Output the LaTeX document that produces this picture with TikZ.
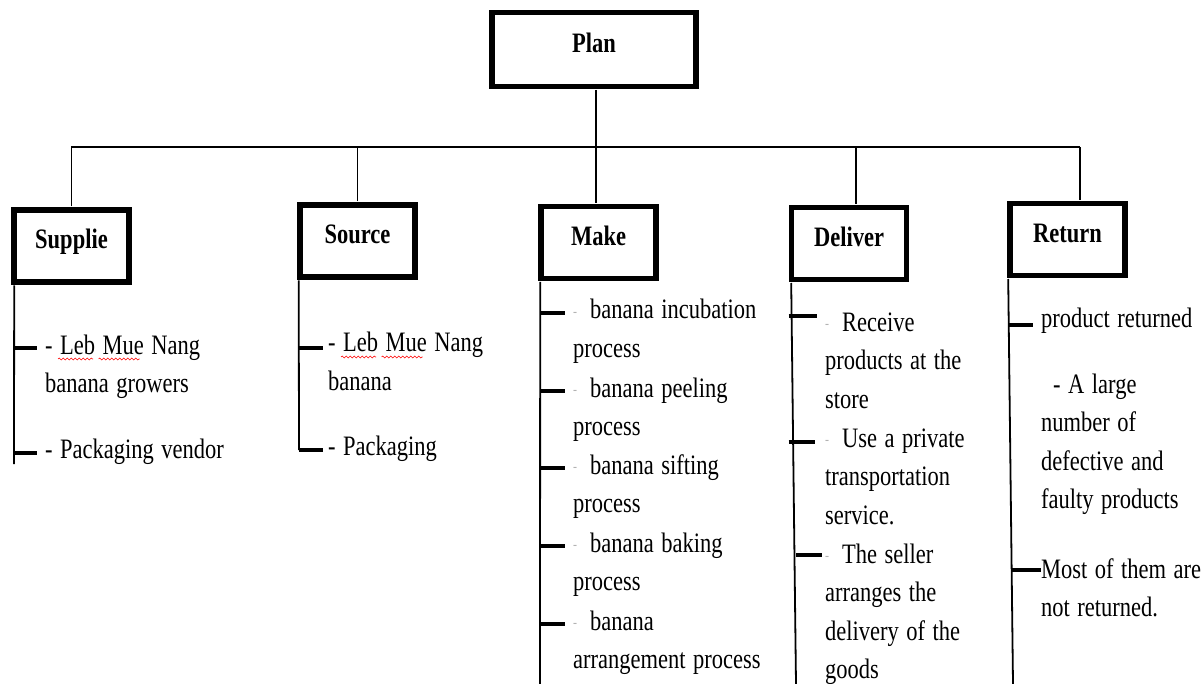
\documentclass[tikz,border=0pt]{standalone}
\usepackage{fontspec}
\setmainfont{Liberation Serif}
\usetikzlibrary{decorations.pathmorphing}

% small grey dash in front of the Make / Deliver items
\newcommand{\gdash}{\makebox[17pt][l]{\color{black!30}\raisebox{2pt}{\fontsize{12}{12}\selectfont -}}}

\tikzset{
    box/.style={draw, line width=5.6pt, minimum width=115pt, minimum height=57.6pt,
        inner sep=0pt, yscale=1.25, text height=12pt, text depth=7.5pt,
        font=\fontsize{22.5}{27}\selectfont\bfseries},
    item/.style={anchor=base west, align=left, text width=220pt, inner sep=0pt, yscale=1.25,
        font=\fontsize{22.5}{30.8}\selectfont},
    conn/.style={line width=1.8pt},
    stem/.style={line width=1.8pt},
    tick/.style={line width=3.6pt},
    squig/.style={red, line width=0.6pt, decorate,
        decoration={snake, amplitude=0.9pt, segment length=4pt}}
}

\begin{document}
\begin{tikzpicture}[x=1pt, y=-1pt]
    \useasboundingbox (0,0) rectangle (1204,684);

    % Boxes
    \node[box, minimum width=204pt, minimum height=59.2pt] (plan) at (594,49.5) {Plan};
    \node[box] (sup) at (71.5,246) {Supplie};
    \node[box] (src) at (357.5,241) {Source};
    \node[box] (mk) at (598.5,242.5) {Make};
    \node[box] (dl) at (849,243.5) {Deliver};
    \node[box] (rt) at (1067.5,239.5) {Return};

    % Bus from Plan to the five boxes
    \coordinate (busL) at (71,147);
    \coordinate (busR) at (1080,147);
    \draw[conn] (busL) -- (busR);
    \draw[conn] ([xshift=2pt]plan.south) -- ([xshift=2pt]plan.south |- mk.north);
    \draw[conn] (sup.north) -- (sup.north |- busL);
    \draw[conn] (src.north) -- (src.north |- busL);
    \draw[conn] ([xshift=7pt]dl.north) -- ([xshift=7pt]dl.north |- busL);
    \draw[conn] ([xshift=12.5pt]rt.north) -- ([xshift=12.5pt]rt.north |- busL);

    % Supplie
    \node[item] (sup1) at (45,354) {- Leb Mue Nang\\banana growers};
    \node[item] (sup2) at (45,458) {- Packaging vendor};
    \coordinate (supEnd) at (14,464);
    \draw[stem] ([xshift=3pt]sup.south west) -- (supEnd);
    \draw[tick] ([yshift=6pt]sup1.base west -| supEnd) -- ([xshift=-8pt,yshift=6pt]sup1.base west);
    \draw[tick] ([yshift=5pt]sup2.base west -| supEnd) -- ([xshift=-8pt,yshift=5pt]sup2.base west);
    \draw[squig] ([shift={(13pt,-5pt)}]sup1.base west) -- ++(35,0);
    \draw[squig] ([shift={(53.5pt,-5pt)}]sup1.base west) -- ++(41,0);

    % Source
    \node[item] (src1) at (328,352) {- Leb Mue Nang\\banana};
    \node[item] (src2) at (328,455) {- Packaging};
    \coordinate (srcEnd) at (299,450);
    \draw[stem] ([xshift=1.5pt]src.south west) -- (srcEnd);
    \draw[tick] ([yshift=4pt]src1.base west -| srcEnd) -- ([xshift=-5pt,yshift=4pt]src1.base west);
    \draw[tick] (srcEnd) -- ([xshift=-5pt,yshift=5pt]src2.base west);
    \draw[squig] ([shift={(13pt,-5pt)}]src1.base west) -- ++(35,0);
    \draw[squig] ([shift={(53.5pt,-5pt)}]src1.base west) -- ++(41,0);

    % Make
    \coordinate (mkEnd) at (540,684);
    \draw[stem] ([xshift=2pt]mk.south west) -- (mkEnd);
    \foreach \nm/\yy/\txt in {mk1/319/{banana incubation\\process},
                              mk2/397/{banana peeling\\process},
                              mk3/474/{banana sifting\\process},
                              mk4/552/{banana baking\\process},
                              mk5/630/{banana\\arrangement process}} {
        \node[item] (\nm) at (573,\yy) {\gdash\txt};
        \draw[tick] ([yshift=6pt]\nm.base west -| mkEnd) -- ([xshift=-8pt,yshift=6pt]\nm.base west);
    }

    % Deliver
    \coordinate (dlEnd) at (796,684);
    \draw[stem] ([xshift=2.5pt]dl.south west) -- (dlEnd);
    \node[item] (dl1) at (825,331) {\gdash Receive\\products at the\\store};
    \node[item] (dl2) at (825,447) {\gdash Use a private\\transportation\\service.};
    \node[item] (dl3) at (825,563) {\gdash The seller\\arranges the\\delivery of the\\goods};
    \draw[tick] ([yshift=15pt]dl1.base west -| dl.south west) -- ([xshift=-8pt,yshift=15pt]dl1.base west);
    \draw[tick] ([yshift=5pt]dl2.base west -| dl.south west) -- ([xshift=-10pt,yshift=5pt]dl2.base west);
    \draw[tick] ([yshift=8pt]dl3.base west -| dlEnd) -- ([xshift=-3pt,yshift=8pt]dl3.base west);

    % Return
    \coordinate (rtEnd) at (1013,684);
    \draw[stem] ([xshift=1pt]rt.south west) -- (rtEnd);
    \node[item] (rt1) at (1041,327) {product returned};
    \node[item] (rt2) at (1041,393) {\hspace*{12pt}- A large\\number of\\defective and\\faulty products};
    \node[item] (rt3) at (1041,578) {Most of them are\\not returned.};
    \draw[tick] ([xshift=1pt,yshift=2pt]rt1.base west -| rt.south west) -- ([xshift=-8pt,yshift=2pt]rt1.base west);
    \draw[tick] ([xshift=-1pt,yshift=8pt]rt3.base west -| rtEnd) -- ([yshift=8pt]rt3.base west);
\end{tikzpicture}
\end{document}
